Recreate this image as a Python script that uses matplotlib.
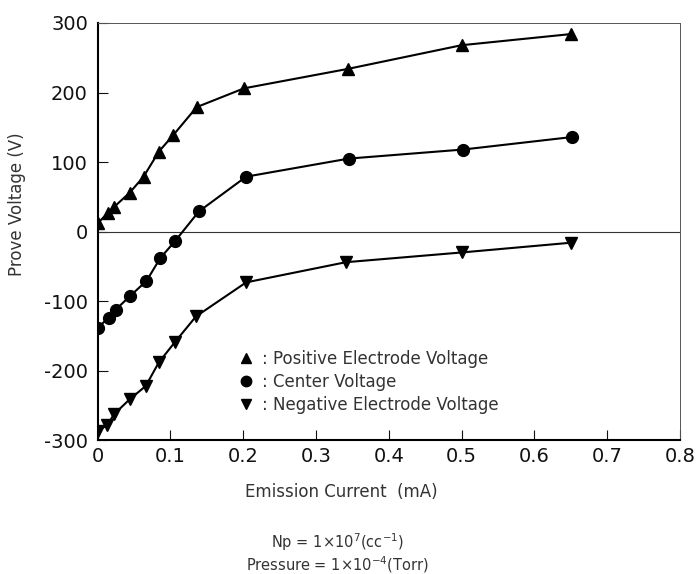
import matplotlib
matplotlib.use('Agg')
from matplotlib import pyplot as plt
from matplotlib.lines import Line2D

# data: emission current (mA) vs probe voltage (V)
pos_x = [0.0, 0.014, 0.023, 0.044, 0.063, 0.084, 0.104, 0.136, 0.201, 0.344, 0.5, 0.65]
pos_v = [12, 27, 36, 56, 79, 115, 139, 179, 206, 234, 268, 284]

cen_x = [0.0, 0.015, 0.025, 0.045, 0.067, 0.086, 0.106, 0.139, 0.204, 0.345, 0.502, 0.652]
cen_v = [-138, -124, -112, -92, -71, -38, -14, 29, 79, 105, 118, 136]

neg_x = [0.0, 0.013, 0.023, 0.044, 0.066, 0.084, 0.106, 0.135, 0.204, 0.341, 0.5, 0.65]
neg_v = [-287, -278, -262, -241, -222, -188, -159, -122, -73, -44, -30, -16]

xticks = [0, 0.1, 0.2, 0.3, 0.4, 0.5, 0.6, 0.7, 0.8]
xlabels = ['0', '0.1', '0.2', '0.3', '0.4', '0.5', '0.6', '0.7', '0.8']
yticks = [-300, -200, -100, 0, 100, 200, 300]
ylabels = ['-300', '-200', '-100', '0', '100', '200', '300']

legend_labels = [': Positive Electrode Voltage', ': Center Voltage', ': Negative Electrode Voltage']

plt.rcParams['font.family'] = ['DejaVu Sans']

fig = plt.figure(figsize=(6.98, 5.74), dpi=100)
ax = fig.add_axes([0.140, 0.233, 0.834, 0.727])

ax.axhline(0, color='#333333', lw=0.8)
ax.plot(pos_x, pos_v, color='black', lw=1.5, marker='^', ms=8.5)
ax.plot(cen_x, cen_v, color='black', lw=1.5, marker='o', ms=8.5)
ax.plot(neg_x, neg_v, color='black', lw=1.5, marker='v', ms=8.5)

ax.set_xlim(0, 0.8)
ax.set_ylim(-300, 300)
ax.set_xticks(xticks)
ax.set_xticklabels(xlabels)
ax.set_yticks(yticks)
ax.set_yticklabels(ylabels)
ax.tick_params(axis='both', direction='in', length=7, labelsize=14, colors='#111111')
ax.tick_params(axis='x', pad=5)
ax.tick_params(axis='y', pad=7)

for side in ['left', 'bottom']:
    ax.spines[side].set_linewidth(1.5)
for side in ['top', 'right']:
    ax.spines[side].set_linewidth(0.7)
    ax.spines[side].set_color('#555555')

ax.set_xlabel('Emission Current  (mA)', fontsize=12, color='#333333')
ax.xaxis.set_label_coords(0.419, -0.103)
ax.set_ylabel('Prove Voltage (V)', fontsize=12, color='#333333')
ax.yaxis.set_label_coords(-0.124, 0.566)

handles = [Line2D([], [], ls='none', marker=m, color='black', ms=7.5) for m in ['^', 'o', 'v']]
ax.legend(handles, legend_labels, frameon=False, loc='upper left',
          bbox_to_anchor=(0.2148, 0.253), fontsize=12, handlelength=1.0,
          handletextpad=0.45, labelspacing=0.3, labelcolor='#333333')

fig.text(0.483, 0.045, r'Np = 1$\times$10$^{7}$(cc$^{-1}$)', ha='center', fontsize=10.5, color='#333333')
fig.text(0.483, 0.006, r'Pressure = 1$\times$10$^{-4}$(Torr)', ha='center', fontsize=10.5, color='#333333')

fig.savefig('out.png', dpi=100)
